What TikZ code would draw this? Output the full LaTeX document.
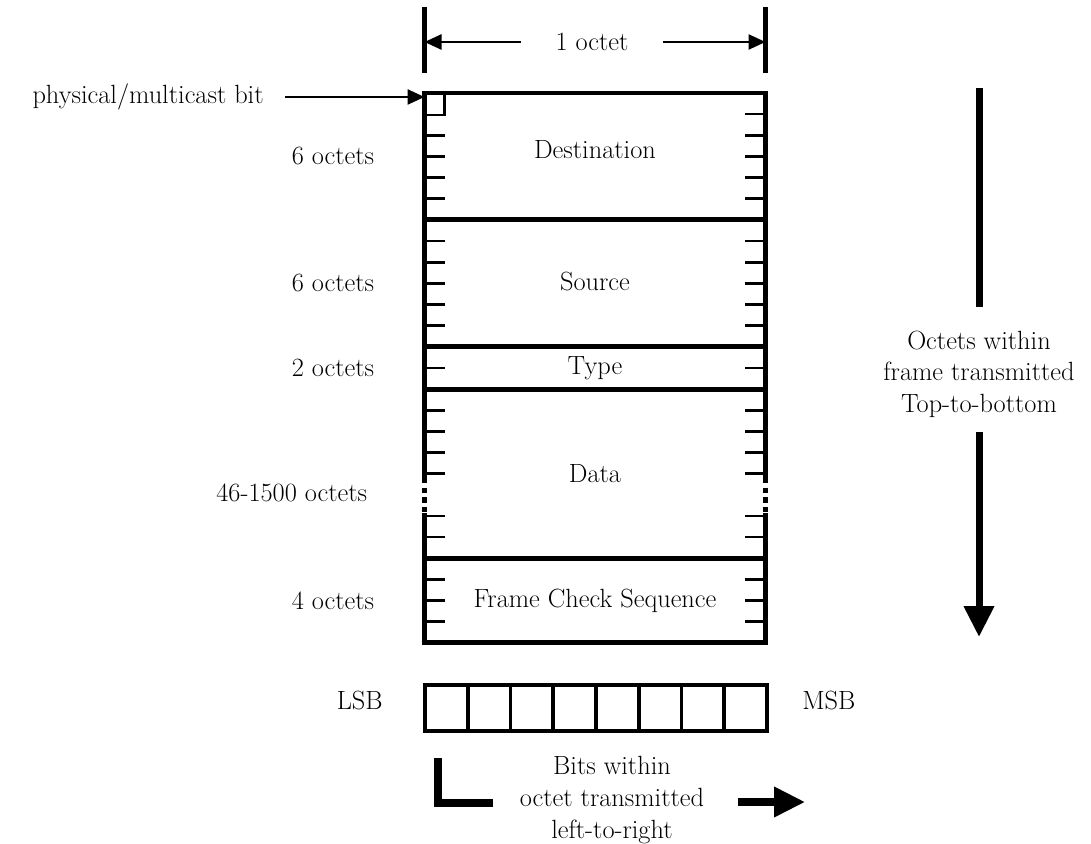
\documentclass[tikz,border=0pt]{standalone}
\usetikzlibrary{positioning,arrows.meta}

\begin{document}
\begin{tikzpicture}[x=0.02cm,y=-0.02cm,>=Triangle,
    font=\fontsize{15}{18}\selectfont,
    field/.style={draw,line width=2.8pt,minimum width=6.82cm,inner sep=0pt,outer sep=0pt},
    tick/.style={line width=1.5pt},
    lbl/.style={inner sep=0pt},
    bar/.style={line width=2.3pt},
    dim/.style={line width=1.4pt,-{Triangle[length=0.34cm,width=0.3cm]}},
    bitcell/.style={draw,line width=2.2pt,minimum width=0.855cm,minimum height=0.92cm,inner sep=0pt,outer sep=0pt},
    heavy/.style={line width=4pt},
    heavyarrow/.style={line width=4pt,-{Triangle[length=0.62cm,width=0.58cm]}}]
  \useasboundingbox (0,0) rectangle (1091,844);

  % width of one octet
  \draw[bar] (424.5,7) coordinate (barL) -- (424.5,73);
  \draw[bar] (765.5,7) coordinate (barR) -- (765.5,73);
  \node[inner xsep=0.68cm,inner ysep=0pt] (oct) at (592,42) {1 octet};
  \draw[dim] (oct.west) -- (oct.west -| barL);
  \draw[dim] (oct.east) -- (oct.east -| barR);

  % frame fields
  \node[field,minimum height=6*0.423cm,anchor=north west,text depth=0.26cm] (dst) at (424.5,93) {Destination};
  \node[field,minimum height=6*0.423cm,below=0pt of dst,text depth=0.1cm] (src) {Source};
  \node[field,minimum height=2*0.423cm,below=0pt of src] (type) {Type};
  \node[field,draw=none,minimum height=8*0.423cm,below=0pt of type] (data) {Data};
  \node[field,minimum height=4*0.423cm,below=0pt of data] (fcs) {Frame Check Sequence};
  \node[draw,line width=1.4pt,minimum width=0.4cm,minimum height=0.44cm,inner sep=0pt,outer sep=0pt,
        anchor=north west] (mbit) at (dst.north west) {};

  % sides of the data field, broken in the middle
  \draw[field] (data.north west) -- ++(0,89) coordinate (gapL);
  \draw[field,dash pattern=on 3pt off 2.5pt] (gapL) -- ++(0,35) coordinate (gapL2);
  \draw[field] (gapL2) -- (data.south west);
  \draw[field] (data.north east) -- ++(0,89) coordinate (gapR);
  \draw[field,dash pattern=on 3pt off 2.5pt] (gapR) -- ++(0,35) coordinate (gapR2);
  \draw[field] (gapR2) -- (data.south east);

  % octet ticks
  \foreach \k in {2,3,4,5,7,8,9,10,11,13,15,16,17,18,20,21,23,24,25}
    \draw[tick] (424.5,93+\k*21.15) -- ++(20,0);
  \foreach \k in {1,2,3,4,5,7,8,9,10,11,13,15,16,17,18,20,21,23,24,25}
    \draw[tick] (765.5,93+\k*21.15) -- ++(-21,0);

  % field sizes
  \node[lbl,left=1cm of dst] (ldst) {6 octets};
  \node[lbl,left=1cm of src] (lsrc) {6 octets};
  \node[lbl,left=1cm of type] (ltype) {2 octets};
  \node[lbl,left=1.14cm of data,yshift=-0.39cm] (ldata) {46-1500 octets};
  \node[lbl,left=1cm of fcs] (lfcs) {4 octets};

  \node[lbl,inner xsep=0.42cm,anchor=east] (pmb) at (285,97) {physical/multicast bit};
  \draw[dim] (pmb.east) -- (pmb.east -| mbit.west);

  % order of octets
  \node[align=center] (otxt) at (979,374) {Octets within\\frame transmitted\\Top-to-bottom};
  \coordinate (o1) at (979,88);
  \coordinate (o2) at (979,307);
  \coordinate (o3) at (979,432);
  \coordinate (o4) at (979,637);
  \draw[heavy] (o1) -- (o2);
  \draw[heavyarrow] (o3) -- (o4);

  % one octet, bit by bit
  \node[bitcell,anchor=north west] (b0) at (425,685) {};
  \foreach \i [count=\j] in {0,...,6}
    \node[bitcell,right=0pt of b\i] (b\j) {};
  \draw[line width=2.6pt] (b0.north west) rectangle (b7.south east);
  \node[lbl,left=0.84cm of b0,yshift=0.16cm] (lsb) {LSB};
  \node[lbl,right=0.7cm of b7,yshift=0.16cm] (msb) {MSB};

  \node[align=center] (btxt) at (612,800) {Bits within\\octet transmitted\\left-to-right};
  \coordinate (l1) at (438,758);
  \coordinate (l2) at (438,803);
  \coordinate (l3) at (493,803);
  \draw[heavy] (l1) -- (l2) -- (l3);
  \coordinate (r1) at (738,802);
  \coordinate (r2) at (805,802);
  \draw[heavyarrow] (r1) -- (r2);
\end{tikzpicture}
\end{document}
